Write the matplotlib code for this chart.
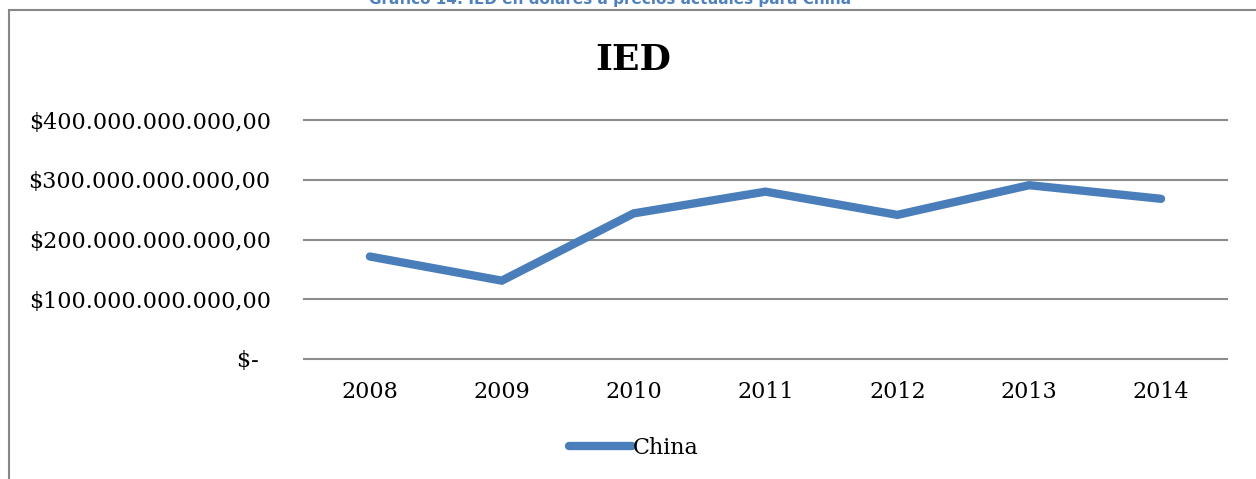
import numpy as np
import matplotlib.pyplot as plt
from matplotlib.patches import Rectangle

years = ['2008', '2009', '2010', '2011', '2012', '2013', '2014']
china = [171.5e9, 131.1e9, 243.7e9, 280.1e9, 241.2e9, 290.9e9, 268.1e9]
yticks = [0, 100e9, 200e9, 300e9, 400e9]
ylabels = ['$- \u2009', '$100.000.000.000,00', '$200.000.000.000,00',
           '$300.000.000.000,00', '$400.000.000.000,00']

plt.rcParams['font.family'] = 'DejaVu Serif'

fig = plt.figure(figsize=(12.56, 4.79), dpi=100)
W, H = 1256, 479

# outer chart border (runs off the right and bottom edge)
fig.patches.append(Rectangle((9 / W, -0.1), 1.2, (H - 10) / H + 0.1,
                             transform=fig.transFigure, fill=False,
                             edgecolor='#878787', linewidth=1.5))

# caption, cut off at the top like in the source
fig.text(610 / W, 1 - 4 / H, 'Gráfico 14: IED en dólares a precios actuales para China',
         ha='center', va='baseline', color='#4F81BD', fontsize=11,
         fontweight='bold', family='DejaVu Sans')

ax = fig.add_axes([304 / W, 1 - 359 / H, 923 / W, 239 / H])
x = np.arange(len(years))
ax.plot(x, china, color='#4A7EBB', linewidth=6, solid_capstyle='round',
        solid_joinstyle='miter', label='China')

ax.set_xlim(-0.5, len(years) - 0.5)
ax.set_ylim(0, 400e9)
ax.set_xticks(x)
ax.set_xticklabels(years, fontsize=16)
ax.set_yticks(yticks)
ax.set_yticklabels(ylabels, fontsize=16)
ax.tick_params(length=0, pad=24)
ax.tick_params(axis='x', pad=16)
ax.grid(axis='y', color='#8c8c8c', linewidth=1.5)
for gl in ax.get_ygridlines():
    gl.set_clip_on(False)
ax.set_axisbelow(True)
for s in ax.spines.values():
    s.set_visible(False)

fig.text(633 / W, 1 - 60 / H, 'IED', ha='center', va='center',
         fontsize=26, fontweight='bold')

fig.legend(loc='center', bbox_to_anchor=(634 / W, 1 - 448 / H), frameon=False,
           fontsize=16, handlelength=2.8, handletextpad=0.05)

fig.savefig('out.png', dpi=100)
